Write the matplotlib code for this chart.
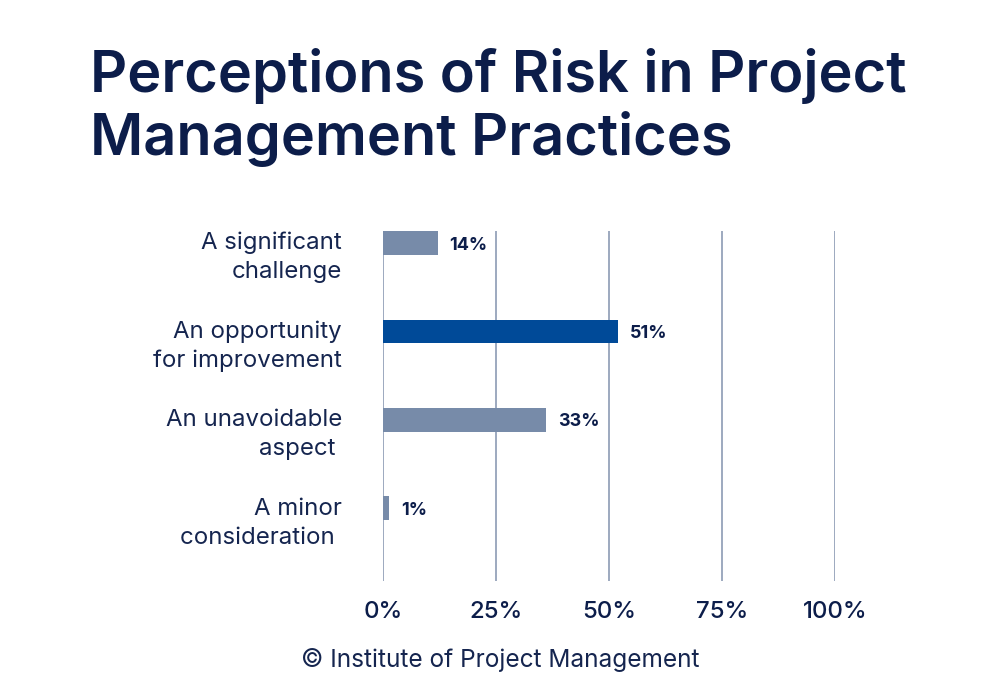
import matplotlib
matplotlib.use("Agg")
import matplotlib.pyplot as plt
import matplotlib.transforms as mtransforms

# ---------------- data ----------------
categories = ["A significant\nchallenge",
              "An opportunity\nfor improvement",
              "An unavoidable\naspect ",
              "A minor\nconsideration "]
bar_values = [12, 52, 36, 1.3]
value_labels = ["14%", "51%", "33%", "1%"]
highlight = [False, True, False, False]
x_ticks = [0, 25, 50, 75, 100]
x_tick_labels = ["0%", "25%", "50%", "75%", "100%"]
title_lines = ["Perceptions of Risk in Project", "Management Practices"]
footer = "\u00a9 Institute of Project Management"

# ---------------- style ----------------
DPI = 100
PT = 72.0 / DPI          # px -> pt
W, H = 1000, 700
NAVY = "#0c1d4a"
TEXT = "#15254f"
BAR = "#778ba9"
BAR_HI = "#004a98"
GRID = "#8292ad"
FONT = ["Inter", "DejaVu Sans"]

plt.rcParams["font.family"] = FONT

fig = plt.figure(figsize=(W / DPI, H / DPI), dpi=DPI)
fig.patch.set_facecolor("white")

# axes placement in pixels
ax_left, ax_right = 383.3, 835.3
ax_top, ax_bottom = 231.0, 580.5
ax = fig.add_axes([ax_left / W, 1 - ax_bottom / H,
                   (ax_right - ax_left) / W, (ax_bottom - ax_top) / H])

pos = list(range(len(categories)))
bar_h = 0.27
colors = [BAR_HI if h else BAR for h in highlight]
ax.barh(pos, bar_values, height=bar_h, color=colors, zorder=3)

ax.set_xlim(0, 100)
ax.set_ylim(3.815, -0.136)
for s in ax.spines.values():
    s.set_visible(False)
ax.set_yticks([])
ax.set_xticks(x_ticks)
ax.set_xticklabels(x_tick_labels, fontsize=24 * PT, color=NAVY,
                   fontweight="medium")
ax.tick_params(axis="x", length=0, pad=21 * PT)
ax.grid(axis="x", color=GRID, linewidth=1.1, zorder=0)
ax.set_axisbelow(True)

# value labels
for p, v, lab in zip(pos, bar_values, value_labels):
    tr = mtransforms.offset_copy(ax.transData, fig=fig, x=12, y=0, units="dots")
    ax.text(v, p, lab, transform=tr, ha="left", va="center_baseline",
            fontsize=18 * PT, fontweight="bold", color=NAVY)

# category labels (each line placed by baseline)
line_gap = 29.0
for p, cat in zip(pos, categories):
    lines = cat.split("\n")
    n = len(lines)
    for i, line in enumerate(lines):
        dy = 35.3 - (n - 1 - i) * line_gap  # px below bar centre
        tr = mtransforms.offset_copy(ax.get_yaxis_transform(), fig=fig,
                                     x=342 - ax_left, y=-dy, units="dots")
        ax.text(0, p, line, transform=tr, ha="right", va="baseline",
                fontsize=24 * PT, color=TEXT)

# title: fit width
title_px = 817.0
t1 = fig.text(90 / W, 1 - 92 / H, title_lines[0], ha="left", va="baseline",
              fontsize=54 * PT, fontweight="semibold", color=NAVY)
fig.canvas.draw()
r = fig.canvas.get_renderer()
w = t1.get_window_extent(r).width
fs = 54 * PT * title_px / w
t1.set_fontsize(fs)
fig.text(90 / W, 1 - 155 / H, title_lines[1], ha="left", va="baseline",
         fontsize=fs, fontweight="semibold", color=NAVY)

# footer
fig.text(500 / W, 1 - 667.3 / H, footer, ha="center", va="baseline",
         fontsize=24.4 * PT, color=TEXT)

fig.savefig("out.png", dpi=DPI, facecolor="white")
